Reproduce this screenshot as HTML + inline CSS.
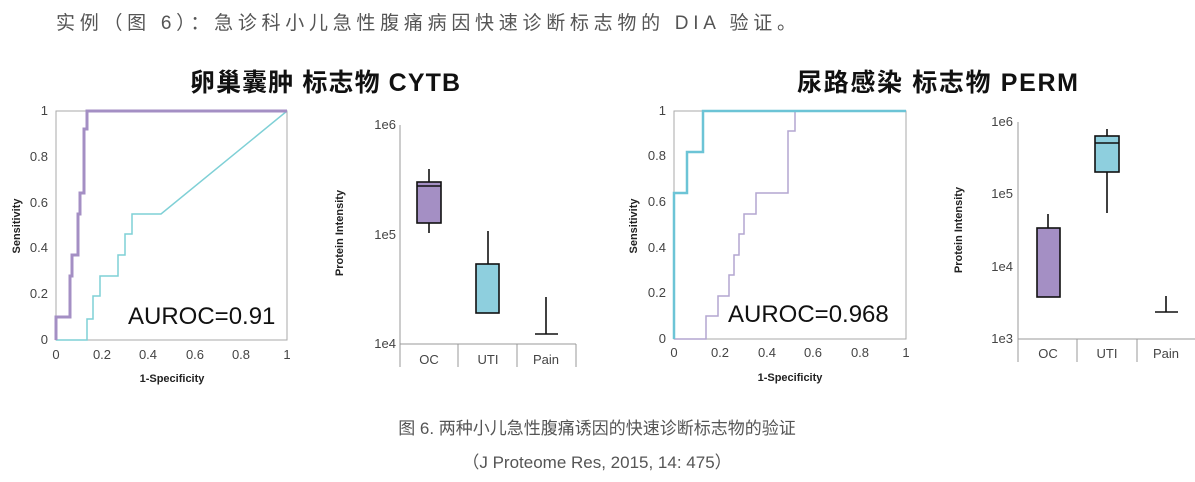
<!DOCTYPE html>
<html><head><meta charset="utf-8"><style>
html,body{margin:0;padding:0;background:#fff;}
svg{display:block;}
text{font-family:"Liberation Sans","Noto Sans CJK SC",sans-serif;}
.t{font-size:13px;fill:#444;}
.a{font-size:11px;font-weight:bold;fill:#222;}
</style></head><body>
<svg width="1195" height="482" viewBox="0 0 1195 482" xmlns="http://www.w3.org/2000/svg">
<text x="56" y="29" font-size="19" fill="#555" textLength="740">实例（图 6）：急诊科小儿急性腹痛病因快速诊断标志物的 DIA 验证。</text>
<text x="190" y="91" font-size="25" font-weight="bold" fill="#111" textLength="270" font-family="'Noto Serif CJK SC','Noto Sans CJK SC',sans-serif">卵巢囊肿 标志物 CYTB</text>
<text x="797" y="91" font-size="25" font-weight="bold" fill="#111" textLength="281" font-family="'Noto Serif CJK SC','Noto Sans CJK SC',sans-serif">尿路感染 标志物 PERM</text>

<!-- Left ROC -->
<g>
<rect x="56" y="111" width="231" height="229" fill="none" stroke="#aaa"/>
<g class="t" text-anchor="end">
<text x="48" y="115">1</text><text x="48" y="161">0.8</text><text x="48" y="207">0.6</text><text x="48" y="252">0.4</text><text x="48" y="298">0.2</text><text x="48" y="344">0</text>
</g>
<g class="t" text-anchor="middle">
<text x="56" y="359">0</text><text x="102" y="359">0.2</text><text x="148" y="359">0.4</text><text x="195" y="359">0.6</text><text x="241" y="359">0.8</text><text x="287" y="359">1</text>
</g>
<text class="a" x="172" y="382" text-anchor="middle">1-Specificity</text>
<text class="a" transform="translate(20,226) rotate(-90)" text-anchor="middle">Sensitivity</text>
<polyline fill="none" stroke="#7fd0d6" stroke-width="1.5" points="56,340 87,340 87,319 93,319 93,296 100,296 100,276 118,276 118,255 125,255 125,234 132,234 132,214 161,214 287,111"/>
<polyline fill="none" stroke="#a48fc4" stroke-width="3" points="56,340 56,317 70,317 70,276 72,276 72,255 78,255 78,214 80,214 80,193 84,193 84,129 87,129 87,111 287,111"/>
<text x="128" y="324" font-size="24" fill="#111">AUROC=0.91</text>
</g>

<!-- Left Box -->
<g stroke="#999" fill="none"><line x1="400" y1="125" x2="400" y2="344"/><line x1="400" y1="344" x2="576" y2="344"/><line x1="458" y1="344" x2="458" y2="367"/><line x1="517" y1="344" x2="517" y2="367"/><line x1="576" y1="344" x2="576" y2="367"/><line x1="400" y1="344" x2="400" y2="367"/></g>
<g class="t" text-anchor="end"><text x="396" y="129">1e6</text><text x="396" y="239">1e5</text><text x="396" y="348">1e4</text></g>
<g class="t" text-anchor="middle"><text x="429" y="364">OC</text><text x="488" y="364">UTI</text><text x="546" y="364">Pain</text></g>
<text class="a" transform="translate(343,233) rotate(-90)" text-anchor="middle" font-size="10">Protein Intensity</text>
<g stroke="#111" stroke-width="1.6">
<line x1="429" y1="169" x2="429" y2="233"/><rect x="417" y="182" width="24" height="41" fill="#a48fc4"/><line x1="417" y1="186" x2="441" y2="186"/>
<line x1="488" y1="231" x2="488" y2="264"/><rect x="476" y="264" width="23" height="49" fill="#8ecfde"/>
<line x1="546" y1="297" x2="546" y2="334"/><line x1="535" y1="334" x2="558" y2="334"/>
</g>

<!-- Right ROC -->
<g>
<rect x="674" y="111" width="232" height="228" fill="none" stroke="#aaa"/>
<g class="t" text-anchor="end">
<text x="666" y="115">1</text><text x="666" y="160">0.8</text><text x="666" y="206">0.6</text><text x="666" y="252">0.4</text><text x="666" y="297">0.2</text><text x="666" y="343">0</text>
</g>
<g class="t" text-anchor="middle">
<text x="674" y="357">0</text><text x="720" y="357">0.2</text><text x="767" y="357">0.4</text><text x="813" y="357">0.6</text><text x="860" y="357">0.8</text><text x="906" y="357">1</text>
</g>
<text class="a" x="790" y="381" text-anchor="middle">1-Specificity</text>
<text class="a" transform="translate(637,226) rotate(-90)" text-anchor="middle">Sensitivity</text>
<polyline fill="none" stroke="#b3a6d0" stroke-width="1.5" points="674,339 706,339 706,316 718,316 718,296 729,296 729,275 734,275 734,255 739,255 739,234 744,234 744,214 756,214 756,193 788,193 788,131 795,131 795,111 906,111"/>
<polyline fill="none" stroke="#6cc4d6" stroke-width="2.5" points="674,339 674,193 687,193 687,152 703,152 703,111 906,111"/>
<text x="728" y="322" font-size="24" fill="#111">AUROC=0.968</text>
</g>

<!-- Right Box -->
<g stroke="#999" fill="none"><line x1="1018" y1="122" x2="1018" y2="339"/><line x1="1018" y1="339" x2="1195" y2="339"/><line x1="1077" y1="339" x2="1077" y2="362"/><line x1="1137" y1="339" x2="1137" y2="362"/><line x1="1018" y1="339" x2="1018" y2="362"/></g>
<g class="t" text-anchor="end"><text x="1013" y="126">1e6</text><text x="1013" y="198">1e5</text><text x="1013" y="271">1e4</text><text x="1013" y="343">1e3</text></g>
<g class="t" text-anchor="middle"><text x="1048" y="358">OC</text><text x="1107" y="358">UTI</text><text x="1166" y="358">Pain</text></g>
<text class="a" transform="translate(962,230) rotate(-90)" text-anchor="middle" font-size="10">Protein Intensity</text>
<g stroke="#111" stroke-width="1.6">
<line x1="1048" y1="214" x2="1048" y2="228"/><rect x="1037" y="228" width="23" height="69" fill="#a48fc4"/>
<line x1="1107" y1="129" x2="1107" y2="213"/><rect x="1095" y="136" width="24" height="36" fill="#8ecfde"/><line x1="1095" y1="143" x2="1119" y2="143"/>
<line x1="1166" y1="296" x2="1166" y2="312"/><line x1="1155" y1="312" x2="1178" y2="312"/>
</g>

<text x="597" y="434" font-size="17" fill="#555" text-anchor="middle">图 6. 两种小儿急性腹痛诱因的快速诊断标志物的验证</text>
<text x="597" y="468" font-size="17" fill="#555" text-anchor="middle">（J Proteome Res, 2015, 14: 475）</text>
</svg>
</body></html>
